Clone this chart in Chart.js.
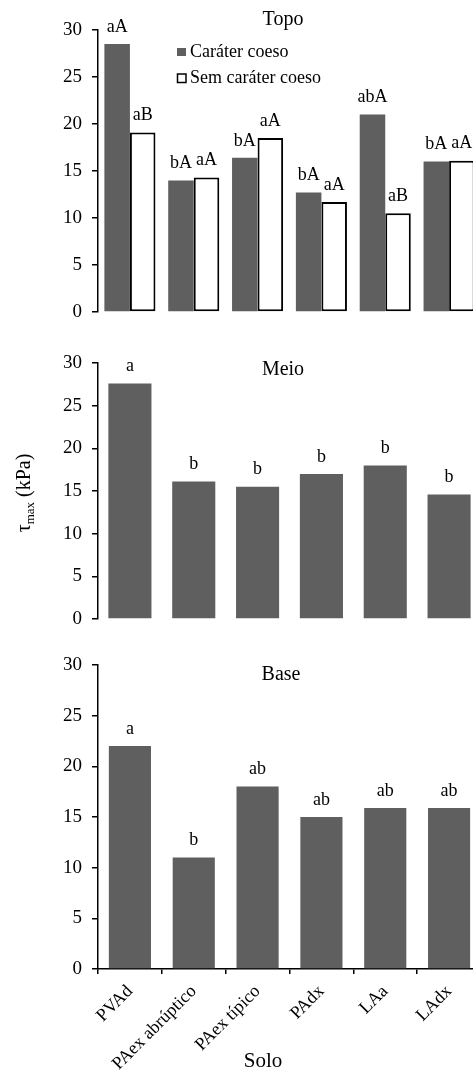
<!DOCTYPE html>
<html>
<head>
<meta charset="utf-8">
<script src="https://cdn.jsdelivr.net/npm/chart.js@4.4.0/dist/chart.umd.min.js"></script>
<style>
  html, body { margin: 0; padding: 0; background: #fff; width: 473px; overflow: hidden; }
  .panel { position: relative; width: 490px; }
</style>
</head>
<body>
<div class="panel" style="height:330px"><canvas id="topo"></canvas></div>
<div class="panel" style="height:300px"><canvas id="meio"></canvas></div>
<div class="panel" style="height:442px"><canvas id="base"></canvas></div>
<script>
var solos = ["PVAd", "PAex abrúptico", "PAex típico", "PAdx", "LAa", "LAdx"];
var topoCoeso = [28.5, 14.0, 16.4, 12.7, 21.0, 16.0];
var topoSem = [19.1, 14.3, 18.5, 11.7, 10.5, 16.1];
var topoCoesoLetras = ["aA", "bA", "bA", "bA", "abA", "bA"];
var topoSemLetras = ["aB", "aA", "aA", "aA", "aB", "aA"];
var meioValores = [27.6, 16.1, 15.5, 17.0, 18.0, 14.6];
var meioLetras = ["a", "b", "b", "b", "b", "b"];
var baseValores = [22.0, 11.0, 18.0, 15.0, 15.9, 15.9];
var baseLetras = ["a", "b", "ab", "ab", "ab", "ab"];
var yMax = 30;
var yStep = 5;

var serif = "'Liberation Serif', 'Times New Roman', serif";
var dark = "#5f5f5f";

// letters above each bar
const letrasPlugin = {
  id: "letras",
  afterDatasetsDraw(chart) {
    const ctx = chart.ctx;
    ctx.save();
    ctx.font = "18px " + serif;
    ctx.fillStyle = "#000";
    ctx.textAlign = "center";
    ctx.textBaseline = "middle";
    chart.data.datasets.forEach(function (ds, i) {
      const meta = chart.getDatasetMeta(i);
      meta.data.forEach(function (bar, j) {
        ctx.fillText(ds.letras[j], bar.x, bar.y - 17);
      });
    });
    ctx.restore();
  },
};

// panel title and extra texts
const textosPlugin = {
  id: "textos",
  afterDraw(chart, args, opts) {
    const ctx = chart.ctx;
    ctx.save();
    ctx.fillStyle = "#000";
    ctx.textBaseline = "middle";
    ctx.textAlign = "center";
    ctx.font = "20px " + serif;
    ctx.fillText(opts.titulo, opts.tx, opts.ty);

    if (opts.legenda) {
      ctx.textAlign = "left";
      ctx.font = "18px " + serif;
      ctx.fillStyle = dark;
      ctx.fillRect(177, 48, 9, 8);
      ctx.fillStyle = "#000";
      ctx.fillText(chart.data.datasets[0].label, 190, 52);
      ctx.lineWidth = 1.5;
      ctx.strokeStyle = "#000";
      ctx.strokeRect(177.5, 74, 8.5, 8.5);
      ctx.fillText(chart.data.datasets[1].label, 190, 78);
    }

    if (opts.eixoY) {
      ctx.translate(25, 163);
      ctx.rotate(-Math.PI / 2);
      ctx.textAlign = "left";
      ctx.font = "20px " + serif;
      const w1 = ctx.measureText("τ").width;
      ctx.font = "13px " + serif;
      const w2 = ctx.measureText("max").width;
      ctx.font = "20px " + serif;
      const w3 = ctx.measureText(" (kPa)").width;
      let x = -(w1 + w2 + w3) / 2;
      ctx.fillText("τ", x, 0);
      ctx.font = "13px " + serif;
      ctx.fillText("max", x + w1, 6);
      ctx.font = "20px " + serif;
      ctx.fillText(" (kPa)", x + w1 + w2, 0);
    }

    if (opts.eixoX) {
      ctx.textAlign = "center";
      ctx.font = "21px " + serif;
      ctx.fillText(opts.eixoX, 263, 431);
    }
    ctx.restore();
  },
};

function eixoY() {
  return {
    min: 0,
    max: yMax,
    afterFit: function (scale) {
      scale.width = 98;
      scale.paddingTop = 0;
      scale.paddingBottom = 0;
    },
    ticks: { stepSize: yStep, color: "#000", padding: 10, font: { family: serif, size: 19 } },
    grid: { drawOnChartArea: false, tickLength: 6, color: "#000", lineWidth: 1.5 },
    border: { display: true, color: "#000", width: 1.5 },
  };
}

function opcoes(padTop, padBottom, textos, eixoX) {
  return {
    responsive: true,
    maintainAspectRatio: false,
    animation: false,
    layout: { padding: { top: padTop, bottom: padBottom, left: 0, right: 9 } },
    plugins: {
      legend: { display: false },
      tooltip: { enabled: false },
      textos: textos,
    },
    scales: { x: eixoX, y: eixoY() },
  };
}

new Chart(document.getElementById("topo"), {
  type: "bar",
  data: {
    labels: solos,
    datasets: [
      { label: "Caráter coeso", data: topoCoeso, letras: topoCoesoLetras, backgroundColor: dark,
        borderWidth: 0, barPercentage: 1, categoryPercentage: 0.8 },
      { label: "Sem caráter coeso", data: topoSem, letras: topoSemLetras, backgroundColor: "#fff",
        borderColor: "#000", borderWidth: 2, borderSkipped: false, barPercentage: 1, categoryPercentage: 0.8 },
    ],
  },
  options: opcoes(30, 18, { titulo: "Topo", tx: 283, ty: 20, legenda: true }, { display: false }),
  plugins: [letrasPlugin, textosPlugin],
});

new Chart(document.getElementById("meio"), {
  type: "bar",
  data: {
    labels: solos,
    datasets: [
      { label: "Meio", data: meioValores, letras: meioLetras, backgroundColor: dark,
        borderWidth: 0, barPercentage: 0.9, categoryPercentage: 0.75 },
    ],
  },
  options: opcoes(33, 11, { titulo: "Meio", tx: 283, ty: 40, eixoY: true }, { display: false }),
  plugins: [letrasPlugin, textosPlugin],
});

new Chart(document.getElementById("base"), {
  type: "bar",
  data: {
    labels: solos,
    datasets: [
      { label: "Base", data: baseValores, letras: baseLetras, backgroundColor: dark,
        borderWidth: 0, barPercentage: 0.88, categoryPercentage: 0.75 },
    ],
  },
  options: opcoes(35, 0, { titulo: "Base", tx: 281, ty: 45, eixoX: "Solo" }, {
    afterFit: function (scale) { scale.height = 103; },
    ticks: { color: "#000", minRotation: 45, maxRotation: 45, padding: 7, font: { family: serif, size: 18 } },
    grid: { drawOnChartArea: false, tickLength: 5, color: "#000", lineWidth: 1.5 },
    border: { display: true, color: "#000", width: 1.5 },
  }),
  plugins: [letrasPlugin, textosPlugin],
});
</script>
</body>
</html>
